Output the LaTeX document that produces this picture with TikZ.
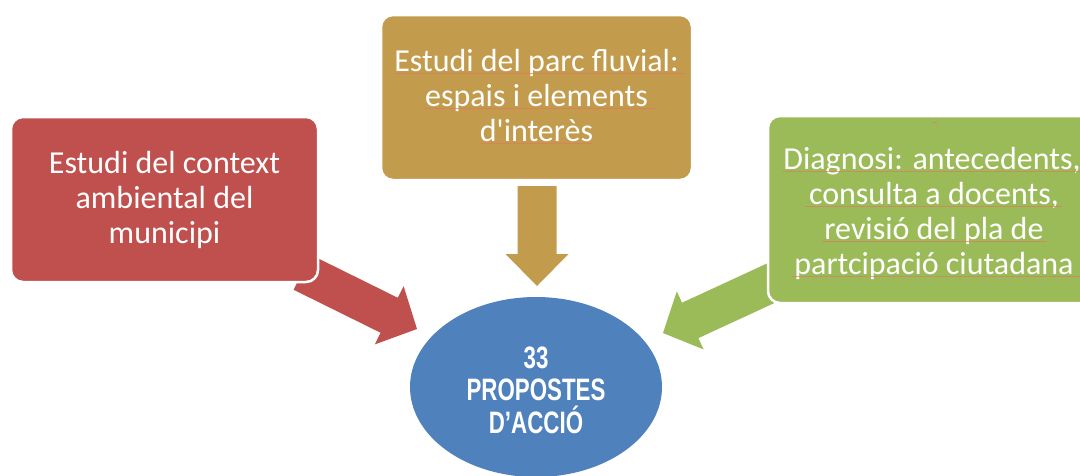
\documentclass[tikz,border=0pt]{standalone}
\usepackage{fontspec}
\usetikzlibrary{shapes.geometric}
\newfontfamily\boxfont{Carlito}
\newfontfamily\narrowfont[FakeStretch=0.72]{Liberation Sans}
\definecolor{cred}{HTML}{C0504D}
\definecolor{cgold}{HTML}{C29B4C}
\definecolor{cgreen}{HTML}{9BBB59}
\definecolor{cblue}{HTML}{4F81BD}
\definecolor{squig}{HTML}{E07A5F}
\begin{document}
\begin{tikzpicture}[x=1pt,y=-1pt,
  box/.style={rounded corners=12pt, draw=white, line width=2.5pt, inner sep=0pt},
  btext/.style={font=\boxfont\fontsize{32}{35}\selectfont, text=white, anchor=base, inner sep=0pt},
  etext/.style={font=\narrowfont\bfseries\fontsize{31}{33}\selectfont, text=white, anchor=base, inner sep=0pt},
  squiggle/.style={draw=squig, line width=0.6pt, opacity=0.7}]
\useasboundingbox (0,0) rectangle (1080,475);
\clip (0,0) rectangle (1080,475);

% block arrows (drawn first, boxes lie on top)
\coordinate (redtip) at (417,329);
\coordinate (goldtip) at (537,286);
\coordinate (greentip) at (663,333);
\begin{scope}[shift={(redtip)}, rotate=-26.3]
  \fill[cred] (0,0) -- (-31,32.5) -- (-31,19.5) -- (-128,19.5) -- (-128,-19.5) -- (-31,-19.5) -- (-31,-32.5) -- cycle;
\end{scope}
\begin{scope}[shift={(goldtip)}, rotate=-90]
  \fill[cgold] (0,0) -- (-32,31.5) -- (-32,19.5) -- (-100,19.5) -- (-100,-19.5) -- (-32,-19.5) -- (-32,-31.5) -- cycle;
\end{scope}
\begin{scope}[shift={(greentip)}, rotate=204.8]
  \fill[cgreen] (0,0) -- (-30,32) -- (-30,19.5) -- (-132,19.5) -- (-132,-19.5) -- (-30,-19.5) -- (-30,-32) -- cycle;
\end{scope}

% boxes
\node[box, fill=cred, minimum width=307pt, minimum height=165pt] (red) at (164.5,199.5) {};
\node[box, fill=cgold, minimum width=311pt, minimum height=165pt] (gold) at (536.5,97.5) {};
\node[box, fill=cgreen, minimum width=332pt, minimum height=187pt] (green) at (934,209.5) {};

% goal ellipse
\node[ellipse, fill=cblue, minimum width=252pt, minimum height=180pt, inner sep=0pt] (goal) at (536,387) {};

% red box text
\node[btext] (r1) at (164.5,173) {Estudi del context};
\node[btext] (r2) at (164.5,208) {ambiental del};
\node[btext] (r3) at (164.5,243) {municipi};

% gold box text
\node[btext] (g1) at (536.5,71) {Estudi del parc fluvial:};
\node[btext] (g2) at (536.5,106) {espais i elements};
\node[btext] (g3) at (536.5,141) {d'interès};
\draw[squiggle] (395,72.8) -- (685,72.8);
\draw[squiggle] (425,107.8) -- (655,107.8);
\draw[squiggle] (480,142.8) -- (593,142.8);

% green box text
\node[btext] (n1) at (932,169.5) {Diagnosi: antecedents,};
\node[btext] (n2) at (934,204.5) {consulta a docents,};
\node[btext] (n3) at (934,239.5) {revisió del pla de};
\node[btext] (n4) at (934,274.5) {partcipació ciutadana};
\draw[squiggle] (783,171) -- (1080,171);
\draw[squiggle] (805,206) -- (1062,206);
\draw[squiggle] (822,241) -- (1047,241);
\draw[squiggle] (792,276) -- (1080,276);
\draw[squiggle] (932,122) -- (937,122);

% ellipse text
\node[etext] (e1) at (536,368) {33};
\node[etext] (e2) at (536,400.5) {PROPOSTES};
\node[etext] (e3) at (536,433) {D’ACCIÓ};
\end{tikzpicture}
\end{document}
